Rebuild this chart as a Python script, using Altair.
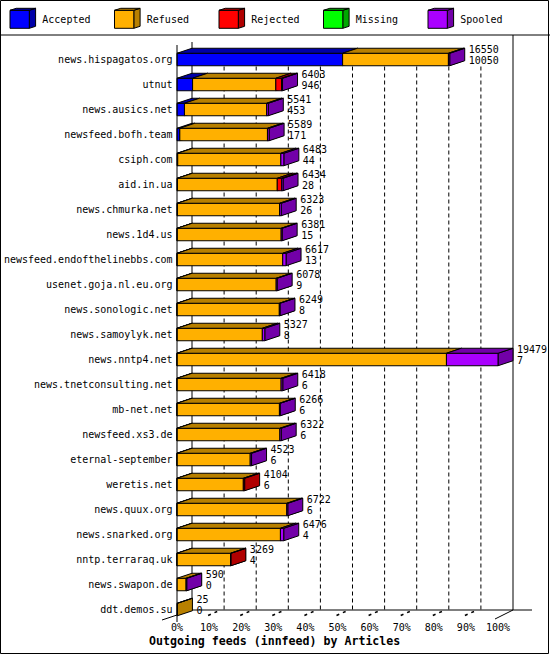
import altair as alt
import pandas as pd

# ---------------- data ----------------
hosts = [
    "news.hispagatos.org", "utnut", "news.ausics.net", "newsfeed.bofh.team",
    "csiph.com", "aid.in.ua", "news.chmurka.net", "news.1d4.us",
    "newsfeed.endofthelinebbs.com", "usenet.goja.nl.eu.org", "news.sonologic.net",
    "news.samoylyk.net", "news.nntp4.net", "news.tnetconsulting.net", "mb-net.net",
    "newsfeed.xs3.de", "eternal-september", "weretis.net", "news.quux.org",
    "news.snarked.org", "nntp.terraraq.uk", "news.swapon.de", "ddt.demos.su",
]
offered = [16550, 6403, 5541, 5589, 6483, 6434, 6323, 6381, 6617, 6078, 6249,
           5327, 19479, 6418, 6266, 6322, 4523, 4104, 6722, 6476, 3269, 590, 25]
accepted = [10050, 946, 453, 171, 44, 28, 26, 15, 13, 9, 8,
            8, 7, 6, 6, 6, 6, 6, 6, 4, 4, 0, 0]
refused = [6420, 5052, 4988, 5318, 6259, 6056, 6197, 6306, 6404, 6009, 6201,
           5169, 16344, 6312, 6210, 6236, 4437, 4018, 6656, 6272, 3245, 550, 25]
rejected = [0, 345, 0, 0, 0, 270, 0, 0, 0, 0, 0,
            0, 0, 0, 0, 0, 0, 80, 0, 0, 20, 0, 0]
missing = [0] * 23
spooled = [80, 60, 100, 100, 180, 80, 100, 60, 200, 60, 40,
           150, 3128, 100, 50, 80, 80, 0, 60, 200, 0, 40, 0]

series_names = ["Accepted", "Refused", "Rejected", "Missing", "Spooled"]
front_colors = ["#0000FF", "#FFB000", "#FF0000", "#00FF00", "#AA00FF"]
dark_colors = ["#0000A8", "#B88000", "#B00000", "#00A800", "#7200A8"]
tick_values = [0, 10, 20, 30, 40, 50, 60, 70, 80, 90, 100]
tick_labels = ["0%", "10%", "20%", "30%", "40%", "50%", "60%", "70%", "80%", "90%", "100%"]
title_text = "Outgoing feeds (innfeed) by Articles"

# ---------------- layout constants ----------------
W, H = 550, 655
X0, PX_PER_PCT = 177.0, 3.21
Y0, PX_PER_ROW = 59.5, 25.0
DEPTH_PX_X, DEPTH_PX_Y = 15.0, 5.0
HALF_BAR_PX = 6.25
FONT = "DejaVu Sans Mono"


def xd(px):
    return (px - X0) / PX_PER_PCT


def yd(py):
    return (py - Y0) / PX_PER_ROW


DX = DEPTH_PX_X / PX_PER_PCT
DY = DEPTH_PX_Y / PX_PER_ROW
HB = HALF_BAR_PX / PX_PER_ROW

fronts, tops, sides = [], [], []


def add_box(key, cat, xa, xb, yt, yb, ddx, ddy):
    fronts.append(dict(key=key, cat=cat, xa=xa, xb=xb, yt=yt, yb=yb))
    tops.append(dict(key=key, cat=cat, y=yt, xa=xa, xb=xb))
    tops.append(dict(key=key, cat=cat, y=yt - ddy, xa=xa + ddx, xb=xb + ddx))
    sides.append(dict(key=key, cat=cat, x=xb, ya=yt, yb=yb))
    sides.append(dict(key=key, cat=cat, x=xb + ddx, ya=yt - ddy, yb=yb - ddy))


max_total = max(offered)
series = [accepted, refused, rejected, missing, spooled]
for i in range(len(hosts)):
    cum = 0.0
    for k, name in enumerate(series_names):
        v = series[k][i]
        if v <= 0:
            continue
        a = cum / max_total * 100
        cum += v
        b = cum / max_total * 100
        add_box(f"b{i:02d}{k}", name, a, b, i - HB, i + HB, DX, DY)

# legend cubes
LEG_X, LEG_STEP, LEG_W, LEG_TOP, LEG_BOT = 10.0, 104.5, 19.3, 10.3, 28.3
legend_rows = []
for k, name in enumerate(series_names):
    xl = LEG_X + k * LEG_STEP
    add_box(f"l{k}", name, xd(xl), xd(xl + LEG_W), yd(LEG_TOP), yd(LEG_BOT),
            6.3 / PX_PER_PCT, 2.0 / PX_PER_ROW)
    legend_rows.append(dict(name=name, x=xd(xl + 32.3), y=yd(19.5)))

df_front = pd.DataFrame(fronts)
df_top = pd.DataFrame(tops)
df_side = pd.DataFrame(sides)
df_leg = pd.DataFrame(legend_rows)

value_rows = []
for i in range(len(hosts)):
    end = offered[i] / max_total * 100 + DX
    value_rows.append(dict(x=end, y=i - 0.38, t=str(offered[i])))
    value_rows.append(dict(x=end, y=i + 0.06, t=str(accepted[i])))
df_vals = pd.DataFrame(value_rows)
df_hosts = pd.DataFrame(dict(host=hosts, row=list(range(len(hosts)))))
df_ticks = pd.DataFrame(dict(t=tick_values, lab=tick_labels))
df_grid = pd.DataFrame(dict(g=[t + DX for t in tick_values[1:-1]]))
df_floor = pd.DataFrame(dict(a=[t - 1 / PX_PER_PCT for t in tick_values[1:-1]],
                             b=[t + 9 / PX_PER_PCT for t in tick_values[1:-1]]))
one = pd.DataFrame(dict(z=[0]))

xs = alt.Scale(domain=[xd(0), xd(W)], nice=False, zero=False)
ys = alt.Scale(domain=[yd(0), yd(H)], nice=False, zero=False, reverse=True)
front_fill = alt.Scale(domain=series_names, range=front_colors)
dark_fill = alt.Scale(domain=series_names, range=dark_colors)


def rule(x1, y1, x2, y2, width=1.0, dash=None):
    kw = dict(color="black", strokeWidth=width)
    if dash:
        kw["strokeDash"] = dash
    return alt.Chart(one).mark_rule(**kw).encode(
        x=alt.value(x1), y=alt.value(y1), x2=alt.value(x2), y2=alt.value(y2))


grid = alt.Chart(df_grid).mark_rule(color="black", strokeWidth=1, strokeDash=[4, 3]).encode(
    x=alt.X("g:Q", scale=xs, axis=None), y=alt.value(66.5), y2=alt.value(610))

floor_ticks = alt.Chart(df_floor).mark_rule(color="black", strokeWidth=1.6, strokeDash=[3, 4]).encode(
    x=alt.X("a:Q", scale=xs, axis=None), x2=alt.X2("b"), y=alt.value(615.5), y2=alt.value(611))

frame_back = [
    rule(192, 42, 192, 610),
    rule(513, 35, 513, 610),
    rule(192, 610, 532, 610),
    rule(162, 620, 192, 610),
    rule(495, 619, 513, 610),
    rule(0, 35, W, 35),
]

sides_layer = alt.Chart(df_side).mark_area(orient="vertical", stroke="black", strokeWidth=1, opacity=1).encode(
    x=alt.X("x:Q", scale=xs, axis=None),
    y=alt.Y("ya:Q", scale=ys, axis=None), y2=alt.Y2("yb"),
    detail="key:N",
    fill=alt.Fill("cat:N", scale=dark_fill, legend=None))

fronts_layer = alt.Chart(df_front).mark_rect(stroke="black", strokeWidth=1).encode(
    x=alt.X("xa:Q", scale=xs, axis=None), x2=alt.X2("xb"),
    y=alt.Y("yt:Q", scale=ys, axis=None), y2=alt.Y2("yb"),
    fill=alt.Fill("cat:N", scale=front_fill, legend=None))

tops_layer = alt.Chart(df_top).mark_area(orient="horizontal", stroke="black", strokeWidth=1, opacity=1).encode(
    y=alt.Y("y:Q", scale=ys, axis=None),
    x=alt.X("xa:Q", scale=xs, axis=None), x2=alt.X2("xb"),
    detail="key:N",
    fill=alt.Fill("cat:N", scale=dark_fill, legend=None))

left_axis = rule(177, 45, 177, 622)

host_text = alt.Chart(df_hosts).mark_text(align="right", baseline="middle", font=FONT, fontSize=10,
                                          color="black").encode(
    x=alt.value(172.5), y=alt.Y("row:Q", scale=ys, axis=None), text="host:N")

val_text = alt.Chart(df_vals).mark_text(align="left", baseline="middle", dx=4, font=FONT, fontSize=10,
                                        color="black").encode(
    x=alt.X("x:Q", scale=xs, axis=None), y=alt.Y("y:Q", scale=ys, axis=None), text="t:N")

tick_text = alt.Chart(df_ticks).mark_text(align="center", baseline="middle", font=FONT, fontSize=10,
                                          color="black").encode(
    x=alt.X("t:Q", scale=xs, axis=None), y=alt.value(628), text="lab:N")

leg_text = alt.Chart(df_leg).mark_text(align="left", baseline="middle", font=FONT, fontSize=10,
                                       color="black").encode(
    x=alt.X("x:Q", scale=xs, axis=None), y=alt.Y("y:Q", scale=ys, axis=None), text="name:N")

title = alt.Chart(one).mark_text(text=title_text, align="left", baseline="middle", font=FONT,
                                 fontSize=11.6, fontWeight="bold", color="black").encode(
    x=alt.value(149), y=alt.value(641.5))

border = alt.Chart(one).mark_rect(fill=None, stroke="black", strokeWidth=1).encode(
    x=alt.value(0.5), x2=alt.value(548.5), y=alt.value(0.5), y2=alt.value(653.5))

chart = alt.layer(
    grid, floor_ticks, *frame_back,
    sides_layer, fronts_layer, tops_layer,
    left_axis, host_text, val_text, tick_text, leg_text, title, border,
).resolve_scale(fill="independent").properties(
    width=W, height=H, autosize=alt.AutoSizeParams(type="none"), padding=0,
    background="white",
).configure_view(stroke=None)

chart.save("out.html", embed_options={"renderer": "svg", "actions": False})
